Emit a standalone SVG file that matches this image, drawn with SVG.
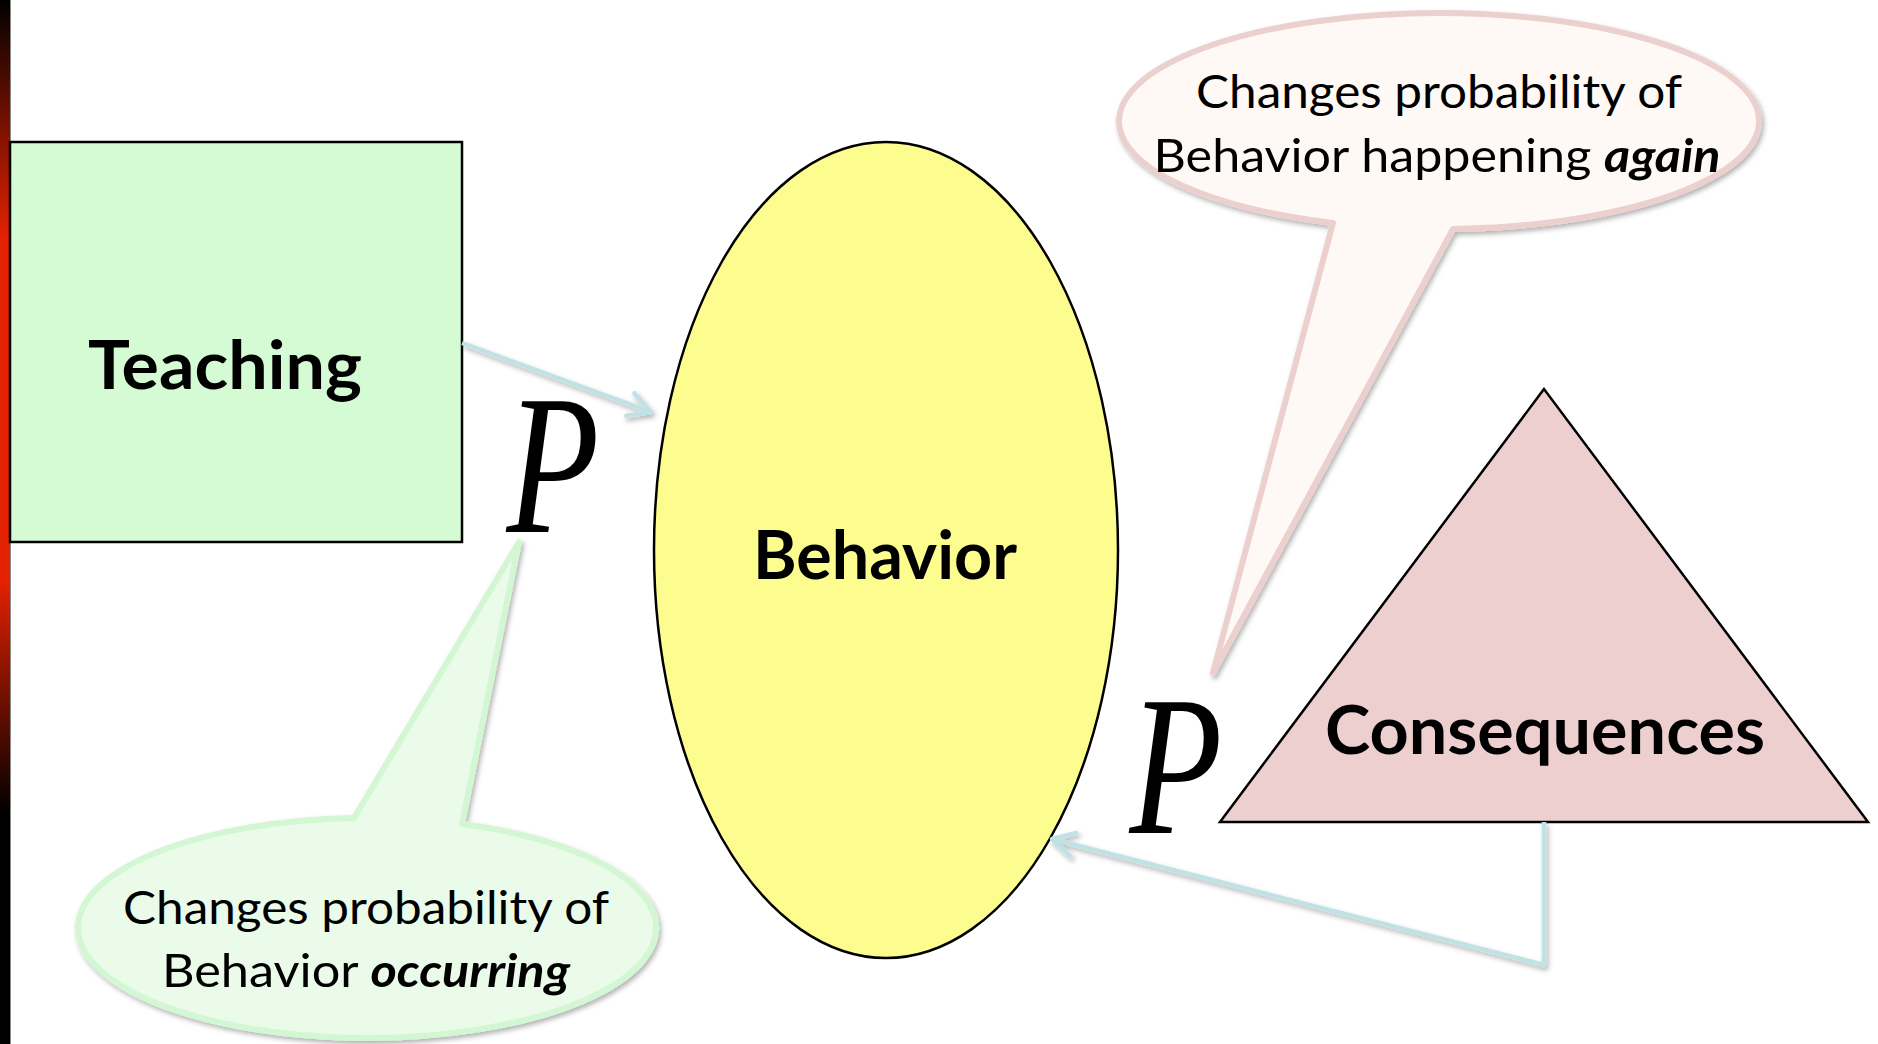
<svg xmlns="http://www.w3.org/2000/svg" width="1878" height="1044" viewBox="0 0 1878 1044">
  <style>
    .lbl { font-family: "Lato", "Open Sans", "Liberation Sans", sans-serif; font-weight: bold; font-size: 66px; fill: #000; text-anchor: middle; }
    .bub { font-family: "Lato", "Open Sans", "Liberation Sans", sans-serif; font-size: 46px; fill: #000; text-anchor: middle; }
    .em { font-weight: bold; font-style: italic; }
    .pp { font-family: "Liberation Serif", "DejaVu Serif", serif; font-style: italic; font-size: 200px; fill: #000; text-anchor: middle; }
    .conn { fill: none; stroke: #bfe2e6; stroke-width: 4.5; stroke-linejoin: round; }
    .shape { stroke: #000; stroke-width: 2.5; }
  </style>
  <defs>
    <linearGradient id="bar" x1="0" y1="0" x2="0" y2="1">
      <stop offset="0" stop-color="#000"/>
      <stop offset="0.23" stop-color="#e52200"/>
      <stop offset="0.555" stop-color="#e52200"/>
      <stop offset="0.78" stop-color="#000"/>
      <stop offset="1" stop-color="#000"/>
    </linearGradient>
    <filter id="sh" x="-10%" y="-10%" width="130%" height="130%">
      <feDropShadow dx="2" dy="3" stdDeviation="2.5" flood-color="#000" flood-opacity="0.3"/>
    </filter>
    <marker id="arr" markerUnits="userSpaceOnUse" markerWidth="50" markerHeight="50" viewBox="-30 -25 50 50" refX="0" refY="0" orient="auto">
      <path d="M-22,-12 L0,0 L-22,12" fill="none" stroke="#bfe2e6" stroke-width="4.5" stroke-linecap="round" stroke-linejoin="round"/>
    </marker>
  </defs>

  <rect x="0" y="0" width="10" height="1044" fill="url(#bar)"/>
  <line x1="10.5" y1="0" x2="10.5" y2="1044" stroke="#8a8a8a" stroke-width="1"/>

  <g id="teaching">
    <rect class="shape" x="10" y="142" width="452" height="400" fill="#d4fbd4"/>
    <text class="lbl" x="225" y="389" textLength="274" lengthAdjust="spacingAndGlyphs">Teaching</text>
  </g>

  <g id="behavior">
    <ellipse class="shape" cx="886" cy="550" rx="232" ry="408" fill="#fdfc8f" stroke-width="2"/>
    <text class="lbl" x="885" y="579" textLength="264" lengthAdjust="spacingAndGlyphs">Behavior</text>
  </g>

  <g id="consequences">
    <polygon class="shape" points="1544,389 1220,822 1868,822" fill="#edcfcf"/>
    <text class="lbl" x="1545" y="754" textLength="440" lengthAdjust="spacingAndGlyphs">Consequences</text>
  </g>

  <g id="connectors" filter="url(#sh)">
    <path class="conn" d="M462,343 L651,412" marker-end="url(#arr)"/>
    <path class="conn" d="M1544,822 L1544,965 L1052,839" marker-end="url(#arr)"/>
  </g>

  <g id="bubble-again">
    <path d="M1333,223 A320,108 0 1 1 1453,229 L1213,673 Z" fill="#fef9f4" stroke="#ecd0ce" stroke-width="6" stroke-linejoin="round" filter="url(#sh)"/>
    <text class="bub" x="1439" y="108" textLength="486" lengthAdjust="spacingAndGlyphs">Changes probability of</text>
    <text class="bub" x="1437" y="172" textLength="567" lengthAdjust="spacingAndGlyphs">Behavior happening <tspan class="em">again</tspan></text>
  </g>

  <g id="bubble-occurring">
    <path d="M462,824 A289,110 0 1 1 354,818 L519,542 Z" fill="#eafbea" stroke="#d3f7d3" stroke-width="6" stroke-linejoin="round" filter="url(#sh)"/>
    <text class="bub" x="366" y="924" textLength="486" lengthAdjust="spacingAndGlyphs">Changes probability of</text>
    <text class="bub" x="366" y="987" textLength="408" lengthAdjust="spacingAndGlyphs">Behavior <tspan class="em">occurring</tspan></text>
  </g>

  <g id="p-teaching">
    <text class="pp" x="0" y="0" transform="translate(553,532) scale(0.76,1)">P</text>
  </g>
  <g id="p-consequences">
    <text class="pp" x="0" y="0" transform="translate(1176,833) scale(0.76,1)">P</text>
  </g>
</svg>
